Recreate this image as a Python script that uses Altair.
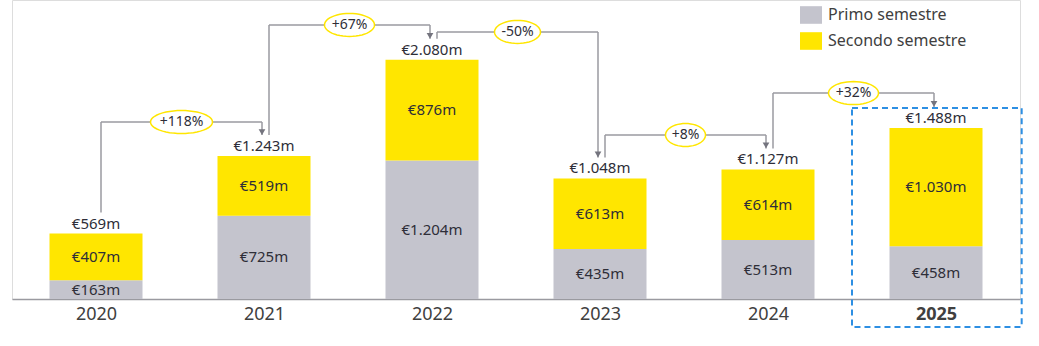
import altair as alt
import pandas as pd
import numpy as np

# ---- data ----
years = ["2020", "2021", "2022", "2023", "2024", "2025"]
primo = [163, 725, 1204, 435, 513, 458]
secondo = [407, 519, 876, 613, 614, 1030]
totals = [569, 1243, 2080, 1048, 1127, 1488]
series = ["Primo semestre", "Secondo semestre"]
changes = ["+118%", "+67%", "-50%", "+8%", "+32%"]
highlight_year = "2025"

# ---- layout / style ----
connector_levels = [1539, 2383, 2322, 1426, 1791]
ellipse_w = [62, 50, 46, 40, 50]
ellipse_h = 23
GRAY = "#C4C4CD"
YELLOW = "#FFE600"
TEXT = "#2E2E38"
LINE = "#9A9AA0"
ARROW = "#74747E"
BLUE = "#2D8FE3"
FONT = "Noto Sans"
YMAX = 2600
H = 299
W = 1008
PX = YMAX / H  # data units per pixel


def eur(v):
    return f"€{v:,}m".replace(",", ".")


def ellipse_path(w, h, n=48):
    r = h / w
    pts = []
    for k in range(n):
        a = 2 * np.pi * k / n
        pts.append(f"{np.cos(a):.4f},{r * np.sin(a):.4f}")
    return "M" + "L".join(pts) + "Z"


rows = []
for i, y in enumerate(years):
    rows.append(dict(x=i + 0.5, year=y, series=series[0], value=primo[i], order=0,
                     mid=primo[i] / 2, label=eur(primo[i])))
    rows.append(dict(x=i + 0.5, year=y, series=series[1], value=secondo[i], order=1,
                     mid=primo[i] + secondo[i] / 2, label=eur(secondo[i])))
bars_df = pd.DataFrame(rows)

tot_df = pd.DataFrame(dict(x=[i + 0.5 for i in range(len(years))], total=totals,
                           label=[eur(t) for t in totals]))

conn = []
for i in range(len(changes)):
    conn.append(dict(x0=i + 0.5, x1=i + 1.5, xm=i + 1.0,
                     start=totals[i] + 21 * PX, end=totals[i + 1] + 21 * PX,
                     level=connector_levels[i], pct=changes[i],
                     path=ellipse_path(ellipse_w[i], ellipse_h),
                     esize=ellipse_w[i] ** 2))
conn_df = pd.DataFrame(conn)

hi = years.index(highlight_year)
box_df = pd.DataFrame(dict(bx0=[hi], bx1=[hi + 1.01], btop=[totals[hi] + 20 * PX],
                           bbot=[-28 * PX]))

xscale = alt.Scale(domain=[0, len(years)], nice=False, zero=False, padding=0)
yscale = alt.Scale(domain=[0, YMAX], nice=False, padding=0)

label_arr = "[" + ",".join(f"'{y}'" for y in years) + "]"
xaxis = alt.Axis(values=[i + 0.5 for i in range(len(years))],
                 labelExpr=f"{label_arr}[floor(datum.value)]",
                 domainColor=LINE, domainWidth=1.5, ticks=False, grid=False,
                 labelFontSize=18, labelColor="#404040", labelPadding=6, title=None,
                 labelFontWeight={"expr": f"floor(datum.value) == {hi} ? 'bold' : 'normal'"},
                 labelFont=FONT)

bars = alt.Chart(bars_df).mark_bar(size=93).encode(
    x=alt.X("x:Q", scale=xscale, axis=xaxis),
    y=alt.Y("value:Q", stack="zero", scale=yscale, axis=None),
    fill=alt.Fill("series:N", scale=alt.Scale(domain=series, range=[GRAY, YELLOW]),
                  legend=alt.Legend(orient="none", legendX=788, legendY=4, title=None,
                                    symbolType="M-1,-0.8L1,-0.8L1,0.8L-1,0.8Z",
                                    symbolSize=484, symbolStrokeWidth=0,
                                    labelFontSize=16, labelColor="#404040",
                                    labelFont=FONT, rowPadding=6, labelOffset=6,
                                    padding=0)),
    order=alt.Order("order:Q"),
)

inside = alt.Chart(bars_df).mark_text(fontSize=15, color=TEXT, font=FONT).encode(
    x=alt.X("x:Q", scale=xscale), y=alt.Y("mid:Q", scale=yscale), text="label:N")

tot = alt.Chart(tot_df).mark_text(fontSize=15, color=TEXT, font=FONT, dy=-10).encode(
    x=alt.X("x:Q", scale=xscale), y=alt.Y("total:Q", scale=yscale), text="label:N")

up = alt.Chart(conn_df).mark_rule(color=LINE, strokeWidth=1.5, xOffset=5).encode(
    x=alt.X("x0:Q", scale=xscale), y=alt.Y("start:Q", scale=yscale), y2="level:Q")
horiz = alt.Chart(conn_df).mark_rule(color=LINE, strokeWidth=1.5, xOffset=5, x2Offset=-2).encode(
    x=alt.X("x0:Q", scale=xscale), x2="x1:Q", y=alt.Y("level:Q", scale=yscale))
down = alt.Chart(conn_df).mark_rule(color=LINE, strokeWidth=1.5, xOffset=-2).encode(
    x=alt.X("x1:Q", scale=xscale), y=alt.Y("level:Q", scale=yscale), y2="end:Q")
arrow = alt.Chart(conn_df).mark_point(shape="triangle-down", filled=True, size=45,
                                      color=ARROW, opacity=1, xOffset=-2, yOffset=-3).encode(
    x=alt.X("x1:Q", scale=xscale), y=alt.Y("end:Q", scale=yscale))
ell = alt.Chart(conn_df).mark_point(fill="white", stroke=YELLOW, strokeWidth=1.5,
                                    opacity=1, fillOpacity=1, xOffset=1.5).encode(
    x=alt.X("xm:Q", scale=xscale), y=alt.Y("level:Q", scale=yscale),
    shape=alt.Shape("path:N", scale=None), size=alt.Size("esize:Q", scale=None))
pct = alt.Chart(conn_df).mark_text(fontSize=14, color=TEXT, font=FONT, xOffset=1.5).encode(
    x=alt.X("xm:Q", scale=xscale), y=alt.Y("level:Q", scale=yscale), text="pct:N")

box = alt.Chart(box_df).mark_rect(fillOpacity=0, stroke=BLUE, strokeWidth=2,
                                  strokeDash=[6, 4]).encode(
    x=alt.X("bx0:Q", scale=xscale), x2="bx1:Q",
    y=alt.Y("btop:Q", scale=yscale), y2="bbot:Q")

chart = alt.layer(bars, inside, tot, up, horiz, down, arrow, ell, pct, box).properties(
    width=W, height=H,
    padding={"left": 12, "top": 0, "right": 19, "bottom": 47},
    autosize=alt.AutoSizeParams(type="none"),
).configure_view(stroke=None).configure(font=FONT)

chart.save("out.html", embed_options={"renderer": "svg", "actions": False})
